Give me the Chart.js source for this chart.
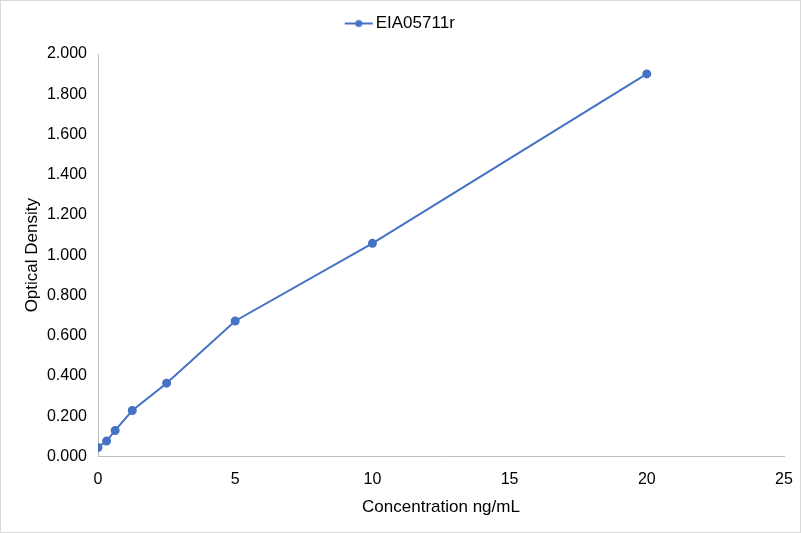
<!DOCTYPE html>
<html>
<head>
<meta charset="utf-8">
<script src="https://cdn.jsdelivr.net/npm/chart.js@4/dist/chart.umd.min.js"></script>
<style>
  html, body { margin: 0; padding: 0; background: #fff; }
  #wrap { position: relative; width: 799px; height: 531px; border: 1px solid #d9d9d9; }
</style>
</head>
<body>
<div id="wrap"><canvas id="c"></canvas></div>
<script>
// 标准曲线数据
const seriesName = 'EIA05711r';
const concentrations = [0, 0.3125, 0.625, 1.25, 2.5, 5, 10, 20];
const densities = [0.044, 0.076, 0.129, 0.228, 0.364, 0.673, 1.059, 1.901];
const xTicks = [0, 5, 10, 15, 20, 25];
const yTicks = [0, 0.2, 0.4, 0.6, 0.8, 1.0, 1.2, 1.4, 1.6, 1.8, 2.0];

const blue = '#4472c4';

// 图例图标：线 + 圆点
const icon = document.createElement('canvas');
icon.width = 30; icon.height = 10;
const ictx = icon.getContext('2d');
ictx.strokeStyle = blue; ictx.lineWidth = 2;
ictx.beginPath(); ictx.moveTo(1, 5); ictx.lineTo(29, 5); ictx.stroke();
ictx.fillStyle = blue;
ictx.beginPath(); ictx.arc(15, 5, 3.5, 0, Math.PI * 2); ictx.fill();

// 图例下方留出空间
const legendGap = {
  id: 'legendGap',
  beforeInit(chart) {
    const fit = chart.legend.fit;
    chart.legend.fit = function () {
      fit.bind(chart.legend)();
      this.height += 12;
    };
  }
};

Chart.defaults.font.family = '"Liberation Sans", Arial, sans-serif';
Chart.defaults.color = '#000';

new Chart(document.getElementById('c'), {
  type: 'scatter',
  data: {
    datasets: [{
      label: seriesName,
      data: concentrations.map((x, i) => ({ x: x, y: densities[i] })),
      showLine: true,
      borderColor: blue,
      backgroundColor: blue,
      borderWidth: 2,
      pointRadius: 3.5,
      pointHoverRadius: 3.5,
      pointStyle: 'circle'
    }]
  },
  options: {
    responsive: true,
    maintainAspectRatio: false,
    animation: false,
    layout: { padding: { top: 0, right: 13, bottom: 14, left: 17 } },
    plugins: {
      tooltip: { enabled: false },
      legend: {
        position: 'top',
        labels: {
          usePointStyle: true,
          pointStyle: icon,
          color: '#000',
          font: { size: 17 },
          padding: 14
        }
      }
    },
    scales: {
      x: {
        type: 'linear',
        min: 0, max: 25,
        afterBuildTicks: axis => { axis.ticks = xTicks.map(v => ({ value: v })); },
        afterFit: axis => { axis.paddingRight = 16; },
        grid: { display: false, drawTicks: false },
        border: { display: true, color: '#bfbfbf', width: 1 },
        ticks: { padding: 14, color: '#000', font: { size: 16 } },
        title: { display: true, text: 'Concentration ng/mL', color: '#000', font: { size: 17 }, padding: { top: -6, bottom: 0 } }
      },
      y: {
        min: 0, max: 2,
        afterBuildTicks: axis => { axis.ticks = yTicks.map(v => ({ value: v })); },
        afterFit: axis => { axis.width = 80; },
        grid: { display: false, drawTicks: false },
        border: { display: true, color: '#bfbfbf', width: 1 },
        ticks: { padding: 11, color: '#000', font: { size: 16 }, callback: v => Number(v).toFixed(3) },
        title: { display: true, text: 'Optical Density', color: '#000', font: { size: 17 }, padding: { bottom: 4 } }
      }
    }
  },
  plugins: [legendGap]
});
</script>
</body>
</html>
